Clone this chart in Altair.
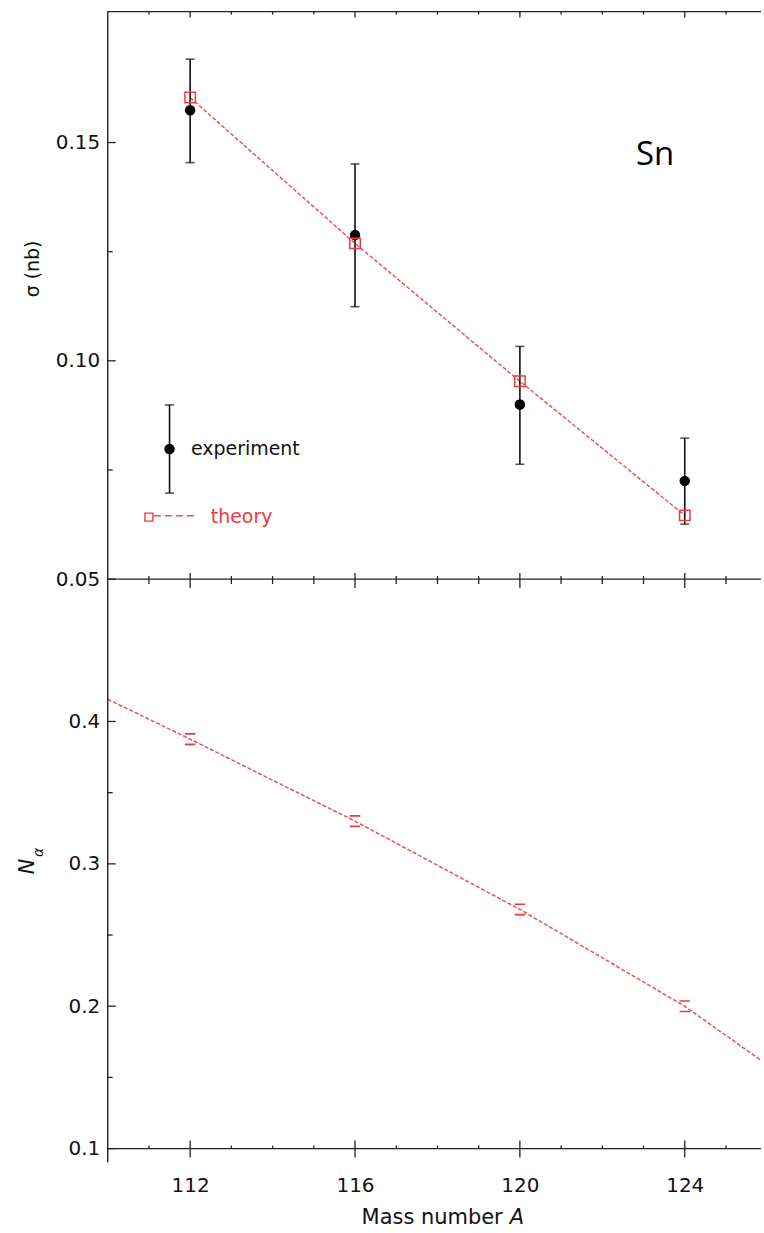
import altair as alt
import pandas as pd

# ---------------- data ----------------
A_points = [112, 116, 120, 124]
sigma_exp = [0.1574, 0.1288, 0.0900, 0.0725]
sigma_exp_lo = [0.1454, 0.1124, 0.0763, 0.0626]
sigma_exp_hi = [0.1691, 0.1451, 0.1033, 0.0823]
sigma_theory = [0.1603, 0.1269, 0.0953, 0.0646]

A_curve = [110, 112, 116, 120, 124, 125.85]
N_curve = [0.4156, 0.3876, 0.330, 0.268, 0.200, 0.1620]
N_theory = [0.3876, 0.330, 0.268, 0.200]

x_major = [112, 116, 120, 124]
x_minor = [111, 113, 114, 115, 117, 118, 119, 121, 122, 123, 125]
sig_major = [0.05, 0.10, 0.15]
sig_minor = [0.075, 0.125]
N_major = [0.1, 0.2, 0.3, 0.4]
N_minor = [0.15, 0.25, 0.35]

legend_text = ["experiment", "theory"]
element = "Sn"

# ---------------- styling ----------------
RED = "#ee3a3c"
RED_LINE = "#f04f52"
BLK = "#111111"
AX = "#222222"
FONT = "DejaVu Sans"
W, H1, H2 = 655, 569, 571

xscale = alt.Scale(domain=[110, 125.85], nice=False, zero=False)
y1scale = alt.Scale(domain=[0.05, 0.18], nice=False, zero=False)
y2scale = alt.Scale(domain=[0.1, 0.5], nice=False, zero=False)

x_axis_bottom = alt.Axis(values=x_major, format="d", ticks=False, tickSize=0, domain=False,
                         grid=False, labelFont=FONT, labelFontSize=20, labelColor=BLK,
                         labelPadding=27, title=None)
y1_axis = alt.Axis(values=sig_major, format=".2f", ticks=False, tickSize=0, domain=False,
                   grid=False, labelFont=FONT, labelFontSize=20, labelColor=BLK,
                   labelPadding=8, title=None)
y2_axis = alt.Axis(values=N_major, format=".1f", ticks=False, tickSize=0, domain=False,
                   grid=False, labelFont=FONT, labelFontSize=20, labelColor=BLK,
                   labelPadding=8, title=None)


def X1(f):
    return alt.X(f, type="quantitative", scale=xscale, axis=None)


def X2(f):
    return alt.X(f, type="quantitative", scale=xscale, axis=x_axis_bottom)


def Y1(f):
    return alt.Y(f, type="quantitative", scale=y1scale, axis=y1_axis)


def Y2(f):
    return alt.Y(f, type="quantitative", scale=y2scale, axis=y2_axis)


def frame(x0, x1, y0, y1):
    return alt.Chart(pd.DataFrame({"v": [0]})).mark_rule(color=AX, strokeWidth=1.4).encode(
        x=alt.value(x0), x2=alt.value(x1), y=alt.value(y0), y2=alt.value(y1))


# ---------------- top panel ----------------
df_top = pd.DataFrame({"A": A_points, "s": sigma_exp, "lo": sigma_exp_lo,
                       "hi": sigma_exp_hi, "th": sigma_theory})

theory_line = alt.Chart(df_top).mark_line(color=RED_LINE, strokeWidth=1.5,
                                           strokeDash=[4, 2]).encode(x=X1("A"), y=Y1("th"))
err_rule = alt.Chart(df_top).mark_rule(color=BLK, strokeWidth=1.6).encode(
    x=X1("A"), y=Y1("lo"), y2="hi")
cap_lo = alt.Chart(df_top).mark_tick(color=BLK, orient="horizontal", size=9,
                                     thickness=1.6).encode(x=X1("A"), y=Y1("lo"))
cap_hi = alt.Chart(df_top).mark_tick(color=BLK, orient="horizontal", size=9,
                                     thickness=1.6).encode(x=X1("A"), y=Y1("hi"))
exp_pts = alt.Chart(df_top).mark_circle(color="#000000", size=110, opacity=1).encode(
    x=X1("A"), y=Y1("s"))
th_sq = alt.Chart(df_top).mark_point(shape="square", size=110, filled=False, color=RED,
                                     strokeWidth=1.5, opacity=1).encode(x=X1("A"), y=Y1("th"))

# legend (drawn inside the plot, in data coordinates)
leg_exp = pd.DataFrame({"A": [111.5], "s": [0.0798], "lo": [0.0697], "hi": [0.0899]})
leg_rule = alt.Chart(leg_exp).mark_rule(color=BLK, strokeWidth=1.6).encode(
    x=X1("A"), y=Y1("lo"), y2="hi")
leg_cap_lo = alt.Chart(leg_exp).mark_tick(color=BLK, orient="horizontal", size=9,
                                          thickness=1.6).encode(x=X1("A"), y=Y1("lo"))
leg_cap_hi = alt.Chart(leg_exp).mark_tick(color=BLK, orient="horizontal", size=9,
                                          thickness=1.6).encode(x=X1("A"), y=Y1("hi"))
leg_pt = alt.Chart(leg_exp).mark_circle(color="#000000", size=110, opacity=1).encode(
    x=X1("A"), y=Y1("s"))
leg_txt1 = alt.Chart(pd.DataFrame({"A": [112.02], "s": [0.0798], "t": [legend_text[0]]})
                     ).mark_text(align="left", baseline="middle", font=FONT, fontSize=19,
                                 color=BLK).encode(x=X1("A"), y=Y1("s"), text="t")
leg_th_sq = alt.Chart(pd.DataFrame({"A": [111.0], "s": [0.0642]})).mark_point(
    shape="square", size=64, filled=False, color=RED, strokeWidth=1.4, opacity=1
).encode(x=X1("A"), y=Y1("s"))
leg_th_line = alt.Chart(pd.DataFrame({"A": [111.12, 112.1], "s": [0.0645, 0.0645]})).mark_line(
    color=RED_LINE, strokeWidth=1.6, strokeDash=[7, 4]).encode(x=X1("A"), y=Y1("s"))
leg_txt2 = alt.Chart(pd.DataFrame({"A": [112.5], "s": [0.0642], "t": [legend_text[1]]})
                     ).mark_text(align="left", baseline="middle", font=FONT, fontSize=19,
                                 color=RED).encode(x=X1("A"), y=Y1("s"), text="t")
sn_txt = alt.Chart(pd.DataFrame({"A": [123.28], "s": [0.1472], "t": [element]})).mark_text(
    align="center", baseline="middle", font="Open Sans", fontSize=33, color="#000000"
).encode(x=X1("A"), y=Y1("s"), text="t")

# tick marks for top panel
xmaj = pd.DataFrame({"v": x_major})
xmin = pd.DataFrame({"v": x_minor})
t_top_maj = alt.Chart(xmaj).mark_rule(color=AX, strokeWidth=1.3).encode(
    x=X1("v"), y=alt.value(0), y2=alt.value(6))
t_top_min = alt.Chart(xmin).mark_rule(color=AX, strokeWidth=1.3).encode(
    x=X1("v"), y=alt.value(0), y2=alt.value(3))
t_mid_maj = alt.Chart(xmaj).mark_rule(color=AX, strokeWidth=1.3).encode(
    x=X1("v"), y=alt.value(H1 - 6), y2=alt.value(H1 + 9))
t_mid_min = alt.Chart(xmin).mark_rule(color=AX, strokeWidth=1.3).encode(
    x=X1("v"), y=alt.value(H1 - 3), y2=alt.value(H1 + 5))
t_l1_maj = alt.Chart(pd.DataFrame({"v": sig_major})).mark_rule(color=AX, strokeWidth=1.3).encode(
    y=Y1("v"), x=alt.value(0), x2=alt.value(8))
t_l1_min = alt.Chart(pd.DataFrame({"v": sig_minor})).mark_rule(color=AX, strokeWidth=1.3).encode(
    y=Y1("v"), x=alt.value(0), x2=alt.value(5))

# layout helper (white, invisible) fixing the plot origin
helper = alt.Chart(pd.DataFrame({"v": [0]})).mark_rule(color="#ffffff", strokeWidth=0.5).encode(
    x=alt.value(-107), x2=alt.value(-104), y=alt.value(-9))

ytitle1 = alt.Chart(pd.DataFrame({"v": [0]})).mark_text(
    text="σ (nb)", angle=270, align="center", baseline="middle", font=FONT, fontSize=19,
    color=BLK).encode(x=alt.value(-75), y=alt.value(258))

top = alt.layer(
    theory_line, err_rule, cap_lo, cap_hi, exp_pts, th_sq,
    leg_rule, leg_cap_lo, leg_cap_hi, leg_pt, leg_txt1,
    leg_th_line, leg_th_sq, leg_txt2, sn_txt,
    frame(0, W, 0, 0), frame(0, 0, 0, H1), frame(0, W, H1, H1),
    t_top_maj, t_top_min, t_mid_maj, t_mid_min, t_l1_maj, t_l1_min,
    helper, ytitle1,
).properties(width=W, height=H1)

# ---------------- bottom panel ----------------
df_curve = pd.DataFrame({"A": A_curve, "N": N_curve})
df_nth = pd.DataFrame({"A": A_points, "N": N_theory})

n_line = alt.Chart(df_curve).mark_line(color=RED_LINE, strokeWidth=1.5,
                                        strokeDash=[4, 2]).encode(x=X2("A"), y=Y2("N"))
n_marks = alt.Chart(df_nth).mark_point(shape="M-1,-1H1M-1,1H1", size=110, filled=False,
                                       color=RED, strokeWidth=1.6, opacity=1).encode(
    x=X2("A"), y=Y2("N"))

t_bot_maj = alt.Chart(xmaj).mark_rule(color=AX, strokeWidth=1.3).encode(
    x=X2("v"), y=alt.value(H2 - 8), y2=alt.value(H2 + 9))
t_bot_min = alt.Chart(xmin).mark_rule(color=AX, strokeWidth=1.3).encode(
    x=X2("v"), y=alt.value(H2 - 3), y2=alt.value(H2))
t_l2_maj = alt.Chart(pd.DataFrame({"v": N_major})).mark_rule(color=AX, strokeWidth=1.3).encode(
    y=Y2("v"), x=alt.value(0), x2=alt.value(8))
t_l2_min = alt.Chart(pd.DataFrame({"v": N_minor})).mark_rule(color=AX, strokeWidth=1.3).encode(
    y=Y2("v"), x=alt.value(0), x2=alt.value(5))

ytitle2a = alt.Chart(pd.DataFrame({"v": [0]})).mark_text(
    text="N", angle=270, align="center", baseline="middle", font=FONT, fontSize=21,
    fontStyle="italic", color=BLK).encode(x=alt.value(-80), y=alt.value(288))
ytitle2b = alt.Chart(pd.DataFrame({"v": [0]})).mark_text(
    text="α", angle=270, align="center", baseline="middle", font=FONT, fontSize=14,
    fontStyle="italic", color=BLK).encode(x=alt.value(-69), y=alt.value(274))
xtitle_a = alt.Chart(pd.DataFrame({"v": [0]})).mark_text(
    text="Mass number", align="right", baseline="middle", font=FONT, fontSize=21,
    color=BLK).encode(x=alt.value(396), y=alt.value(641))
xtitle_b = alt.Chart(pd.DataFrame({"v": [0]})).mark_text(
    text="A", align="left", baseline="middle", font=FONT, fontSize=21, fontStyle="italic",
    color=BLK).encode(x=alt.value(403), y=alt.value(641))

bottom = alt.layer(
    n_line, n_marks,
    frame(0, 0, 0, H2 + 14), frame(0, W, H2, H2),
    t_bot_maj, t_bot_min, t_l2_maj, t_l2_min,
    ytitle2a, ytitle2b, xtitle_a, xtitle_b,
).properties(width=W, height=H2)

chart = alt.vconcat(top, bottom, spacing=0, bounds="flush").properties(
    padding=0, background="#ffffff"
).configure_view(stroke="transparent", strokeWidth=0)

chart.save("out.html", embed_options={"renderer": "svg", "actions": False})
